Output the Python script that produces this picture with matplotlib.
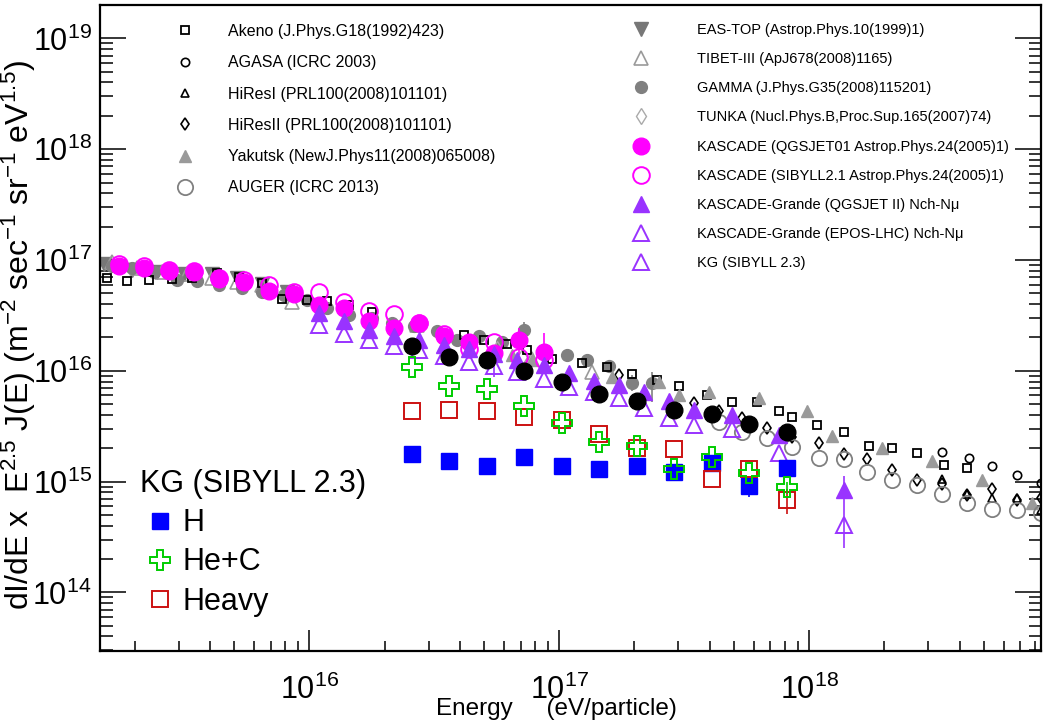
import numpy as np
import matplotlib
matplotlib.use("Agg")
import matplotlib.pyplot as plt
from matplotlib.lines import Line2D

plt.rcParams['font.family'] = ['Liberation Sans', 'DejaVu Sans']
plt.rcParams['mathtext.fontset'] = 'custom'
plt.rcParams['mathtext.rm'] = 'Liberation Sans'
plt.rcParams['mathtext.it'] = 'Liberation Sans:italic'
plt.rcParams['mathtext.default'] = 'regular'

# ---------------- data (log10 E [eV], log10 flux) ----------------
akeno_lgE = [15.19, 15.27, 15.36, 15.45, 15.53, 15.63, 15.72, 15.81, 15.89, 15.99, 16.07, 16.16, 16.25,
             16.62, 16.70, 16.79, 16.87, 16.97, 17.09, 17.19, 17.29, 17.39, 17.48, 17.59, 17.69, 17.79,
             17.88, 17.93, 18.03, 18.14, 18.24, 18.33, 18.43, 18.54, 18.63]
akeno_lgF = [16.84, 16.81, 16.82, 16.83, 16.84, 16.88, 16.85, 16.79, 16.65, 16.64, 16.63, 16.59, 16.53,
             16.32, 16.28, 16.24, 16.19, 16.11, 16.07, 16.03, 15.97, 15.92, 15.86, 15.78, 15.72, 15.72,
             15.64, 15.58, 15.51, 15.45, 15.32, 15.30, 15.26, 15.15, 15.12]

agasa_lgE = [18.53, 18.64, 18.73, 18.83, 18.93]
agasa_lgF = [15.27, 15.21, 15.14, 15.06, 14.99]

hires1_lgE = [18.53, 18.63, 18.73, 18.83, 18.93]
hires1_lgF = [15.02, 14.89, 14.85, 14.85, 14.74]

hires2_lgE = [17.24, 17.54, 17.64, 17.73, 17.83, 17.93, 18.04, 18.14, 18.23, 18.33, 18.43, 18.53,
              18.63, 18.73, 18.83, 18.93]
hires2_lgF = [15.96, 15.71, 15.64, 15.57, 15.48, 15.40, 15.35, 15.25, 15.20, 15.10, 15.01, 14.98,
              14.88, 14.93, 14.83, 14.85]

yakutsk_lgE = [16.81, 16.89, 17.21, 17.40, 17.48, 17.60, 17.80, 17.99, 18.09, 18.29, 18.49, 18.69, 18.89]
yakutsk_lgF = [16.14, 16.10, 15.94, 15.90, 15.78, 15.81, 15.75, 15.64, 15.41, 15.30, 15.19, 15.01, 14.81]

auger_lgE = [17.64, 17.73, 17.83, 17.93, 18.04, 18.14, 18.23, 18.33, 18.43, 18.53, 18.63, 18.73, 18.83, 18.93]
auger_lgF = [15.54, 15.45, 15.39, 15.31, 15.21, 15.20, 15.09, 15.01, 14.97, 14.89, 14.81, 14.75, 14.74, 14.72]

eastop_lgE = [15.18, 15.29, 15.39, 15.50, 15.61, 15.71, 15.81, 15.91]
eastop_lgF = [16.96, 16.91, 16.89, 16.87, 16.87, 16.84, 16.78, 16.71]

tibet_lgE = [15.21, 15.31, 15.41, 15.51, 15.61, 15.71, 15.81, 15.93, 16.05, 16.43, 16.89, 17.13]
tibet_lgF = [16.98, 16.93, 16.89, 16.87, 16.84, 16.80, 16.77, 16.62, 16.59, 16.41, 16.11, 15.99]

gamma_lgE = [15.21, 15.29, 15.38, 15.47, 15.55, 15.64, 15.73, 15.81, 15.90, 15.99, 16.07, 16.16, 16.25,
             16.33, 16.42, 16.51, 16.59, 16.68, 16.77, 16.86, 16.94, 17.03, 17.11, 17.20, 17.29, 17.37]
gamma_lgF = [16.95, 16.93, 16.89, 16.82, 16.81, 16.77, 16.75, 16.71, 16.68, 16.64, 16.57, 16.50, 16.48,
             16.43, 16.40, 16.36, 16.28, 16.31, 16.26, 16.37, 16.19, 16.14, 16.10, 16.04, 15.89, 15.89]
gamma_lgF_lo = [16.95, 16.93, 16.89, 16.82, 16.81, 16.77, 16.75, 16.71, 16.68, 16.64, 16.57, 16.50, 16.48,
                16.43, 16.40, 16.36, 16.28, 16.31, 16.26, 16.30, 16.19, 16.14, 16.10, 16.04, 15.82, 15.72]
gamma_lgF_hi = [16.95, 16.93, 16.89, 16.82, 16.81, 16.77, 16.75, 16.71, 16.68, 16.64, 16.57, 16.50, 16.48,
                16.43, 16.40, 16.36, 16.28, 16.31, 16.26, 16.44, 16.19, 16.14, 16.10, 16.04, 15.96, 15.99]

tunka_lgE = [16.55, 16.65, 16.75, 16.85]
tunka_lgF = [16.30, 16.25, 16.20, 16.12]

kq_lgE = [15.24, 15.34, 15.44, 15.54, 15.64, 15.74, 15.84, 15.94, 16.04, 16.14, 16.24, 16.34, 16.44,
          16.54, 16.64, 16.74, 16.84, 16.94]
kq_lgF = [16.95, 16.93, 16.90, 16.89, 16.83, 16.80, 16.72, 16.69, 16.59, 16.57, 16.45, 16.39, 16.43,
          16.31, 16.26, 16.16, 16.28, 16.17]
kq_lgF_lo = [16.95, 16.93, 16.90, 16.89, 16.83, 16.80, 16.72, 16.69, 16.59, 16.57, 16.45, 16.39, 16.40,
             16.31, 16.26, 16.16, 16.14, 16.03]
kq_lgF_hi = [16.95, 16.93, 16.90, 16.89, 16.83, 16.80, 16.72, 16.69, 16.59, 16.57, 16.45, 16.39, 16.47,
             16.31, 16.26, 16.16, 16.39, 16.34]

ks_lgE = [15.24, 15.34, 15.44, 15.54, 15.64, 15.74, 15.84, 15.94, 16.04, 16.14, 16.24, 16.34, 16.44,
          16.54, 16.64, 16.74, 16.84, 16.94]
ks_lgF = [16.96, 16.95, 16.91, 16.90, 16.84, 16.82, 16.77, 16.71, 16.71, 16.62, 16.54, 16.51, 16.43,
          16.33, 16.20, 16.26, 16.12, 16.10]

kgq_lgE = [16.04, 16.14, 16.24, 16.34, 16.44, 16.54, 16.64, 16.74, 16.83, 16.94, 17.04, 17.14, 17.24,
           17.34, 17.44, 17.54, 17.69, 17.88, 18.14]
kgq_lgF = [16.52, 16.45, 16.37, 16.31, 16.28, 16.23, 16.20, 16.15, 16.10, 16.05, 15.98, 15.91, 15.87,
           15.81, 15.73, 15.65, 15.60, 15.42, 14.92]
kgq_lgF_lo = [16.52, 16.45, 16.37, 16.31, 16.28, 16.23, 16.20, 15.94, 16.10, 16.05, 15.98, 15.91, 15.87,
              15.81, 15.73, 15.65, 15.60, 15.42, 14.79]
kgq_lgF_hi = [16.52, 16.45, 16.37, 16.31, 16.28, 16.23, 16.20, 16.19, 16.10, 16.05, 15.98, 15.91, 15.87,
              15.81, 15.73, 15.65, 15.60, 15.42, 15.05]

kge_lgE = [16.04, 16.14, 16.24, 16.34, 16.44, 16.54, 16.64, 16.74, 16.83, 16.94, 17.04, 17.14, 17.24,
           17.34, 17.44, 17.54, 17.69, 17.88, 18.14]
kge_lgF = [16.41, 16.33, 16.28, 16.22, 16.19, 16.13, 16.08, 16.04, 15.99, 15.93, 15.85, 15.81, 15.75,
           15.66, 15.57, 15.51, 15.47, 15.26, 14.61]
kge_lgF_lo = [16.41, 16.33, 16.28, 16.22, 16.19, 16.13, 16.08, 16.04, 15.99, 15.93, 15.85, 15.81, 15.75,
              15.66, 15.57, 15.51, 15.47, 15.26, 14.40]
kge_lgF_hi = [16.41, 16.33, 16.28, 16.22, 16.19, 16.13, 16.08, 16.04, 15.99, 15.93, 15.85, 15.81, 15.75,
              15.66, 15.57, 15.51, 15.47, 15.26, 14.79]

all_lgE = [16.41, 16.56, 16.71, 16.86, 17.01, 17.16, 17.31, 17.46, 17.61, 17.76, 17.91]
all_lgF = [16.22, 16.12, 16.10, 16.00, 15.90, 15.79, 15.73, 15.65, 15.61, 15.52, 15.45]

h_lgF = [15.25, 15.19, 15.14, 15.22, 15.14, 15.11, 15.14, 15.09, 15.17, 14.96, 15.12]
h_lgF_lo = [15.25, 15.19, 15.14, 15.22, 15.14, 15.11, 15.14, 15.09, 15.17, 14.86, 15.12]
h_lgF_hi = [15.25, 15.19, 15.14, 15.22, 15.14, 15.11, 15.14, 15.09, 15.17, 14.99, 15.12]
hec_lgF = [16.03, 15.86, 15.84, 15.68, 15.53, 15.36, 15.32, 15.11, 15.22, 15.08, 14.95]
hec_lgF_lo = [16.03, 15.86, 15.84, 15.68, 15.53, 15.36, 15.32, 15.11, 15.22, 15.08, 14.89]
hec_lgF_hi = [16.03, 15.86, 15.84, 15.68, 15.53, 15.36, 15.32, 15.11, 15.22, 15.08, 15.00]
heavy_lgF = [15.64, 15.65, 15.64, 15.58, 15.56, 15.43, 15.30, 15.29, 15.02, 15.11, 14.83]
heavy_lgF_lo = [15.64, 15.65, 15.64, 15.58, 15.56, 15.43, 15.30, 15.29, 15.02, 15.11, 14.71]
heavy_lgF_hi = [15.64, 15.65, 15.64, 15.58, 15.56, 15.43, 15.30, 15.29, 15.02, 15.11, 14.93]


def p(a):
    return 10.0 ** np.asarray(a, dtype=float)


fig = plt.figure(figsize=(10.55, 7.21), dpi=100)
ax = fig.add_axes([100 / 1055, 1 - 651 / 721, 941 / 1055, 646 / 721])
ax.set_xscale('log')
ax.set_yscale('log')
ax.set_xlim(10 ** 15.162, 10 ** 18.928)
ax.set_ylim(10 ** 13.471, 10 ** 19.301)

GR = '#808080'
LG = '#9a9a9a'
MAG = '#ff00ff'
PUR = '#9933ff'


def series(lgE, lgF, lo=None, hi=None, **kw):
    y = p(lgF)
    if lo is not None:
        yerr = np.vstack([y - p(lo), p(hi) - y])
        col = kw.get('mec', kw.get('color'))
        ax.errorbar(p(lgE), y, yerr=yerr, fmt='none', ecolor=col, elinewidth=1.2, capsize=0)
    return ax.plot(p(lgE), y, ls='none', **kw)[0]


h_eastop = series(eastop_lgE, eastop_lgF, marker='v', ms=10, color='#777777', mec='#777777', label='EAS-TOP (Astrop.Phys.10(1999)1)')
h_tibet = series(tibet_lgE, tibet_lgF, marker='^', ms=10, mfc='none', mec=LG, mew=1.2, label='TIBET-III (ApJ678(2008)1165)')
h_gamma = series(gamma_lgE, gamma_lgF, gamma_lgF_lo, gamma_lgF_hi, marker='o', ms=8.5, color=GR, label='GAMMA (J.Phys.G35(2008)115201)')
h_tunka = series(tunka_lgE, tunka_lgF, marker='d', ms=8, mfc='none', mec='#aaaaaa', mew=1.0, label='TUNKA (Nucl.Phys.B,Proc.Sup.165(2007)74)')
h_akeno = series(akeno_lgE, akeno_lgF, marker='s', ms=6, mfc='none', mec='black', mew=1.3, label='Akeno (J.Phys.G18(1992)423)')
h_agasa = series(agasa_lgE, agasa_lgF, marker='o', ms=6, mfc='none', mec='black', mew=1.2, label='AGASA (ICRC 2003)')
h_hires1 = series(hires1_lgE, hires1_lgF, marker='^', ms=6, mfc='none', mec='black', mew=1.2, label='HiResI (PRL100(2008)101101)')
h_hires2 = series(hires2_lgE, hires2_lgF, marker='d', ms=6, mfc='none', mec='black', mew=1.2, label='HiResII (PRL100(2008)101101)')
h_yak = series(yakutsk_lgE, yakutsk_lgF, marker='^', ms=9, color=LG, label='Yakutsk (NewJ.Phys11(2008)065008)')
h_auger = series(auger_lgE, auger_lgF, marker='o', ms=11, mfc='none', mec=GR, mew=1.3, label='AUGER (ICRC 2013)')

h_ks = series(ks_lgE, ks_lgF, marker='o', ms=12, mfc='none', mec=MAG, mew=1.4, label='KASCADE (SIBYLL2.1 Astrop.Phys.24(2005)1)')
h_kq = series(kq_lgE, kq_lgF, kq_lgF_lo, kq_lgF_hi, marker='o', ms=12, color=MAG, label='KASCADE (QGSJET01 Astrop.Phys.24(2005)1)')
h_kge = series(kge_lgE, kge_lgF, kge_lgF_lo, kge_lgF_hi, marker='^', ms=12, mfc='none', mec=PUR, mew=1.4, label='KASCADE-Grande (EPOS-LHC) Nch-N\u03bc')
h_kgq = series(kgq_lgE, kgq_lgF, kgq_lgF_lo, kgq_lgF_hi, marker='^', ms=12, color=PUR, label='KASCADE-Grande (QGSJET II) Nch-N\u03bc')
h_kgs = Line2D([], [], ls='none', marker='^', ms=12, mfc='none', mec=PUR, mew=1.4, label='KG (SIBYLL 2.3)')

series(all_lgE, all_lgF, marker='o', ms=12, color='black')
h_h = series(all_lgE, h_lgF, h_lgF_lo, h_lgF_hi, marker='s', ms=12, color='#0000ff', label='H')
h_heavy = series(all_lgE, heavy_lgF, heavy_lgF_lo, heavy_lgF_hi, marker='s', ms=12, mfc='none', mec='#cc1111', mew=1.4, label='Heavy')
h_hec = series(all_lgE, hec_lgF, hec_lgF_lo, hec_lgF_hi, marker='P', ms=14, mfc='none', mec='#00cc00', mew=1.4, label='He+C')

# axes style
for s in ax.spines.values():
    s.set_linewidth(1.6)
ax.tick_params(axis='both', which='both', direction='in', width=1.1)
ax.tick_params(axis='y', which='major', length=19, right=True, left=True, pad=6)
ax.tick_params(axis='y', which='minor', length=9, right=True, left=True)
ax.tick_params(axis='x', which='major', length=15, top=False, pad=17)
ax.tick_params(axis='x', which='minor', length=7, top=False)
ax.tick_params(axis='both', labelsize=22)
ax.set_xticks([1e16, 1e17, 1e18])
ax.set_xticklabels(['$10^{16}$', '$10^{17}$', '$10^{18}$'])
ax.set_yticks([1e14, 1e15, 1e16, 1e17, 1e18, 1e19])
ax.set_yticklabels(['$10^{14}$', '$10^{15}$', '$10^{16}$', '$10^{17}$', '$10^{18}$', '$10^{19}$'])
ax.yaxis.set_minor_locator(matplotlib.ticker.LogLocator(base=10, subs=np.arange(2, 10)))
ax.xaxis.set_minor_locator(matplotlib.ticker.LogLocator(base=10, subs=np.arange(2, 10)))
ax.yaxis.set_minor_formatter(matplotlib.ticker.NullFormatter())
ax.xaxis.set_minor_formatter(matplotlib.ticker.NullFormatter())

ax.set_xlabel('Energy     (eV/particle)', fontsize=17.5)
ax.xaxis.set_label_coords((556 - 100) / 941, -0.072)
ax.set_ylabel('dI/dE x  E$^{2.5}$ J(E) (m$^{-2}$ sec$^{-1}$ sr$^{-1}$ eV$^{1.5}$)', fontsize=23)
ax.yaxis.set_label_coords(-(100 - 38) / 941, (651 - 335) / 646)

leg1 = ax.legend(handles=[h_akeno, h_agasa, h_hires1, h_hires2, h_yak, h_auger],
                 loc='upper left', bbox_to_anchor=(177 / 1055, 1 - 24 / 721), bbox_transform=fig.transFigure,
                 frameon=False, fontsize=11.5, handlelength=1.0, handletextpad=2.2, labelspacing=1.02,
                 borderpad=0, borderaxespad=0, numpoints=1)
ax.add_artist(leg1)
leg2 = ax.legend(handles=[h_eastop, h_tibet, h_gamma, h_tunka, h_kq, h_ks, h_kgq, h_kge, h_kgs],
                 loc='upper left', bbox_to_anchor=(634 / 1055, 1 - 23 / 721), bbox_transform=fig.transFigure,
                 frameon=False, fontsize=10.5, handlelength=1.0, handletextpad=3.3, labelspacing=1.04,
                 borderpad=0, borderaxespad=0, numpoints=1)
ax.add_artist(leg2)
leg3 = ax.legend(handles=[h_h, h_hec, h_heavy], title='KG (SIBYLL 2.3)', title_fontsize=22,
                 loc='upper left', bbox_to_anchor=(134 / 1055, 1 - 463 / 721), bbox_transform=fig.transFigure,
                 frameon=True, fontsize=22, handlelength=1.3, handletextpad=0.1, labelspacing=0.3,
                 borderpad=0.2, borderaxespad=0, numpoints=1, alignment='left')
leg3.get_frame().set_edgecolor('none')
leg3.get_frame().set_facecolor('white')
leg3.get_frame().set_alpha(1.0)

fig.savefig('out.png', dpi=100)
